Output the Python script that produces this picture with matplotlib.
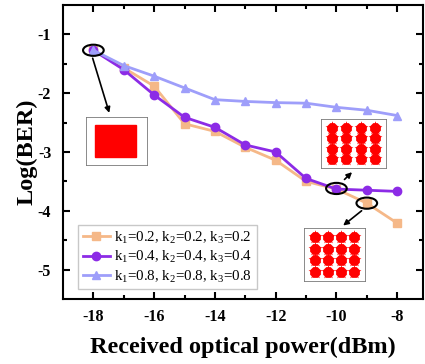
import matplotlib
matplotlib.use("Agg")
import matplotlib.pyplot as plt
import numpy as np
from matplotlib.patches import Ellipse

plt.rcParams['font.family'] = 'Liberation Serif'
plt.rcParams['mathtext.fontset'] = 'custom'
plt.rcParams['mathtext.rm'] = 'Liberation Serif'
plt.rcParams['mathtext.it'] = 'Liberation Serif:italic'
plt.rcParams['axes.unicode_minus'] = False

power = [-18, -17, -16, -15, -14, -13, -12, -11, -10, -9, -8]
ber_k02 = [-1.27, -1.57, -1.88, -2.52, -2.65, -2.92, -3.14, -3.50, -3.63, -3.87, -4.21]
ber_k04 = [-1.27, -1.60, -2.03, -2.41, -2.58, -2.88, -3.00, -3.45, -3.63, -3.65, -3.67]
ber_k08 = [-1.27, -1.53, -1.71, -1.91, -2.11, -2.14, -2.16, -2.17, -2.24, -2.29, -2.38]
labels = [r'k$_1$=0.2, k$_2$=0.2, k$_3$=0.2',
          r'k$_1$=0.4, k$_2$=0.4, k$_3$=0.4',
          r'k$_1$=0.8, k$_2$=0.8, k$_3$=0.8']
colors = ['#F5B888', '#8C2BE6', '#9E9EFA']
markers = ['s', 'o', '^']

fig = plt.figure(figsize=(4.25, 3.64), dpi=100)
ax = fig.add_axes([63/425, 1-299/364, (423-63)/425, (299-5)/364])

for y, lab, c, m in zip([ber_k02, ber_k04, ber_k08], labels, colors, markers):
    ax.plot(power, y, color=c, marker=m, markersize=6, linewidth=2, label=lab)

ax.set_xlim(-19, -7.15)
ax.set_ylim(-5.5, -0.5)
ax.set_xticks([-18, -16, -14, -12, -10, -8])
ax.set_xticks([-17, -15, -13, -11, -9], minor=True)
ax.set_yticks([-5, -4, -3, -2, -1])
ax.set_yticks([-4.5, -3.5, -2.5, -1.5], minor=True)
ax.tick_params(which='both', direction='in', top=True, right=True, width=1.5)
ax.tick_params(which='major', length=5, labelsize=11.5)
ax.tick_params(axis='x', which='major', pad=7)
ax.tick_params(axis='y', which='major', pad=8.5)
ax.tick_params(which='minor', length=3)
for lbl in ax.get_xticklabels() + ax.get_yticklabels():
    lbl.set_fontweight('bold')
for s in ax.spines.values():
    s.set_linewidth(1.5)

ax.set_xlabel('Received optical power(dBm)', fontsize=17.5, fontweight='bold', labelpad=9)
ax.set_ylabel('Log(BER)', fontsize=17.5, fontweight='bold', labelpad=0)

leg = ax.legend(loc='lower left', bbox_to_anchor=(0.042, 0.034), borderaxespad=0,
                fontsize=10.8, frameon=True,
                fancybox=False, edgecolor='#bbbbbb', handlelength=1.8, handletextpad=0.3,
                borderpad=0.3, labelspacing=0.22)
leg.get_frame().set_linewidth(1.0)

# ellipses
for (xc, yc) in [(-18, -1.27), (-10, -3.62), (-9, -3.87)]:
    ax.add_patch(Ellipse((xc, yc), 0.68, 0.19, fill=False, edgecolor='black', linewidth=1.5, zorder=5))

# arrows
arrow_kw = dict(arrowstyle='-|>', color='black', lw=1.2, mutation_scale=8)
ax.annotate('', xy=(-17.45, -2.38), xytext=(-18.05, -1.36), arrowprops=arrow_kw)
ax.annotate('', xy=(-9.42, -3.31), xytext=(-9.8, -3.5), arrowprops=arrow_kw)
ax.annotate('', xy=(-9.85, -4.28), xytext=(-9.1, -3.97), arrowprops=arrow_kw)

# constellation insets (deterministic schematic)
def inset(px0, py0, px1, py1):
    a = fig.add_axes([px0/425, 1-py1/364, (px1-px0)/425, (py1-py0)/364])
    a.set_xticks([]); a.set_yticks([])
    for s in a.spines.values():
        s.set_linewidth(0.6); s.set_color('#777777')
    return a

a1 = inset(86, 117, 147, 165)
a1.set_xlim(-4, 4); a1.set_ylim(-4, 4)
a1.add_patch(plt.Rectangle((-2.8, -2.6), 5.4, 5.2, color='red'))

g = [-3, -1, 1, 3]
gx, gy = np.meshgrid(g, g)
for (x0, y0, x1, y1) in [(321, 119, 386, 168), (304, 228, 365, 281)]:
    a = inset(x0, y0, x1, y1)
    a.set_xlim(-4.6, 4.6); a.set_ylim(-4.6, 4.6)
    a.scatter(gx.ravel(), gy.ravel(), s=70, c='red', marker='8', linewidths=0)
    a.scatter(gx.ravel(), gy.ravel(), s=110, c='red', marker='*', linewidths=0)

fig.savefig('out.png', dpi=100)
